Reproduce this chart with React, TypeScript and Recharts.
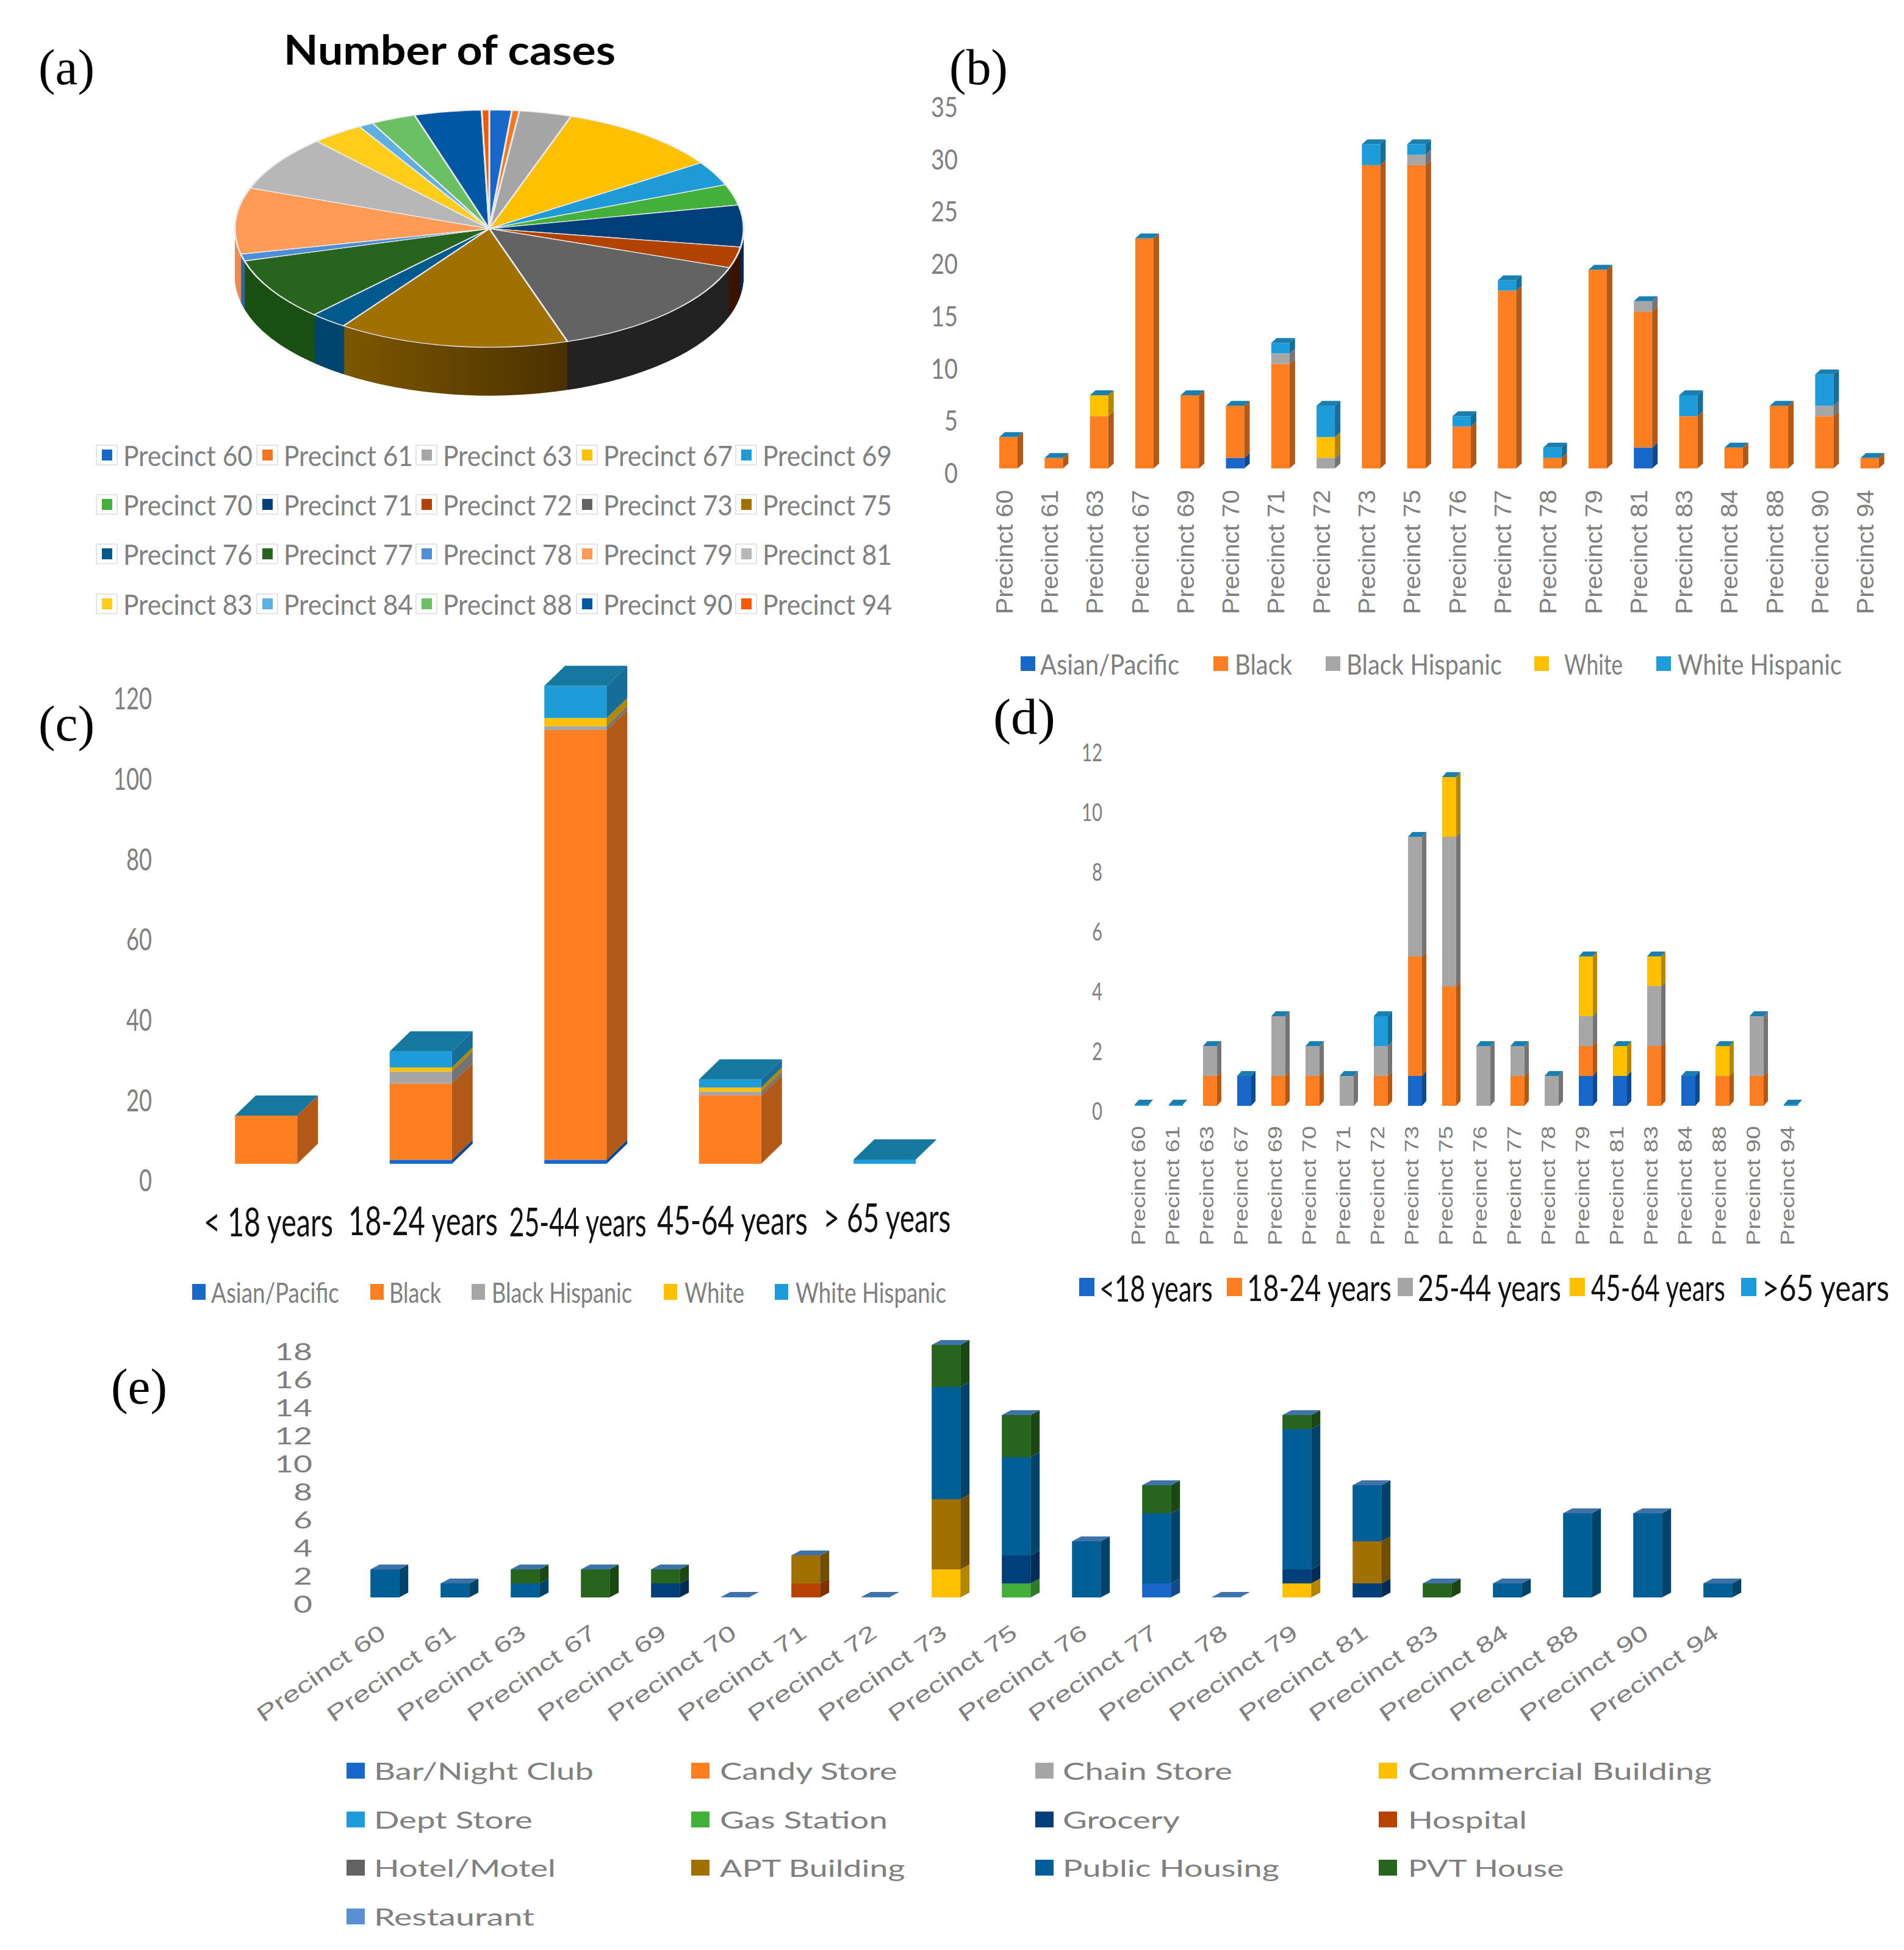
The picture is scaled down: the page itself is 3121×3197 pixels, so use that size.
import React from 'react';
import { BarChart, Bar, XAxis, YAxis, PieChart, Pie, Cell } from 'recharts';

const W = 3121;
const H = 3197;

const precincts = ['Precinct 60','Precinct 61','Precinct 63','Precinct 67','Precinct 69','Precinct 70','Precinct 71','Precinct 72','Precinct 73','Precinct 75','Precinct 76','Precinct 77','Precinct 78','Precinct 79','Precinct 81','Precinct 83','Precinct 84','Precinct 88','Precinct 90','Precinct 94'];

// (a) cases per precinct
const caseCounts = [3,1,7,22,7,6,12,6,31,31,5,18,2,19,16,7,2,6,9,1];
const pieColors = ['#1768c9','#f5761f','#a5a5a5','#ffc000','#1e9ad6','#44b03c','#003f7a','#b14200','#636363','#a07000','#005a8e','#27651e','#4d8fd6','#ff9a57','#b7b7b7','#ffcd1a','#5fb0e0','#6cc064','#0058a5','#f15a00'];
const pieSides = ['#104a8e','#aa5215','#747474','#b38700','#156c96','#2f7b2a','#002c55','#3a1400','#222222','url(#sideGold)','#00456e','#1b5015','#36649a','#f08a4f','#808080','#b39012','#437b9d','#4c8646','#003d74','#a93f00'];

// (b) race by precinct
const raceNames = ['Asian/Pacific','Black','Black Hispanic','White','White Hispanic'];
const raceColors = ['#1768c9','#fe7f22','#a6a6a6','#ffc000','#1e9bd9'];
const bAsian = [0,0,0,0,0,1,0,0,0,0,0,0,0,0,2,0,0,0,0,0];
const bBlack = [3,1,5,22,7,5,10,0,29,29,4,17,1,19,13,5,2,6,5,1];
const bBlackHisp = [0,0,0,0,0,0,1,1,0,1,0,0,0,0,1,0,0,0,1,0];
const bWhite = [0,0,2,0,0,0,0,2,0,0,0,0,0,0,0,0,0,0,0,0];
const bWhiteHisp = [0,0,0,0,0,0,1,3,2,1,1,1,1,0,0,2,0,0,3,0];

// (c) race by age group
const ageGroups = ['< 18 years','18-24 years','25-44 years','45-64 years','> 65 years'];
const cAsian = [0,1,1,0,0];
const cBlack = [12,19,107,17,0];
const cBlackHisp = [0,3,1,1,0];
const cWhite = [0,1,2,1,0];
const cWhiteHisp = [0,4,8,2,0];

// (d) age by precinct
const ageNames = ['<18 years','18-24 years','25-44 years','45-64 years','>65 years'];
const ageColors = ['#1768c9','#fe7f22','#a6a6a6','#ffc000','#1e9bd9'];
const dUnder18 = [0,0,0,1,0,0,0,0,1,0,0,0,0,1,1,0,1,0,0,0];
const d18to24 = [0,0,1,0,1,1,0,1,4,4,0,1,0,1,0,2,0,1,1,0];
const d25to44 = [0,0,1,0,2,1,1,1,4,5,2,1,1,1,0,2,0,0,2,0];
const d45to64 = [0,0,0,0,0,0,0,0,0,2,0,0,0,2,1,1,0,1,0,0];
const dOver65 = [0,0,0,0,0,0,0,1,0,0,0,0,0,0,0,0,0,0,0,0];

// (e) location by precinct
const placeNames = ['Bar/Night Club','Candy Store','Chain Store','Commercial Building','Dept Store','Gas Station','Grocery','Hospital','Hotel/Motel','APT Building','Public Housing','PVT House','Restaurant'];
const placeColors = ['#1768c9','#fe7f22','#a6a6a6','#ffc000','#1e9bd9','#44b03c','#003f7a','#b84300','#636363','#a07000','#005f96','#27651e','#5a8fd6'];
const eBar = [0,0,0,0,0,0,0,0,0,0,0,1,0,0,0,0,0,0,0,0];
const eCandy = [0,0,0,0,0,0,0,0,0,0,0,0,0,0,0,0,0,0,0,0];
const eChain = [0,0,0,0,0,0,0,0,0,0,0,0,0,0,0,0,0,0,0,0];
const eCommercial = [0,0,0,0,0,0,0,0,2,0,0,0,0,1,0,0,0,0,0,0];
const eDept = [0,0,0,0,0,0,0,0,0,0,0,0,0,0,0,0,0,0,0,0];
const eGas = [0,0,0,0,0,0,0,0,0,1,0,0,0,0,0,0,0,0,0,0];
const eGrocery = [0,0,0,0,1,0,0,0,0,2,0,0,0,1,1,0,0,0,0,0];
const eHospital = [0,0,0,0,0,0,1,0,0,0,0,0,0,0,0,0,0,0,0,0];
const eHotel = [0,0,0,0,0,0,0,0,0,0,0,0,0,0,0,0,0,0,0,0];
const eApt = [0,0,0,0,0,0,2,0,5,0,0,0,0,0,3,0,0,0,0,0];
const ePublic = [2,1,1,0,0,0,0,0,8,7,4,5,0,10,4,0,1,6,6,1];
const ePvt = [0,0,1,2,1,0,0,0,3,3,0,2,0,1,0,1,0,0,0,0];
const eRestaurant = [0,0,0,0,0,0,0,0,0,0,0,0,0,0,0,0,0,0,0,0];

const table = (cats: string[], cols: number[][]) =>
  cats.map((name, i) => {
    const row: any = { name };
    cols.forEach((c, k) => { row['s' + k] = c[i]; });
    return row;
  });

const shade = (hex: string, f: number) => {
  const n = parseInt(hex.slice(1), 16);
  const c = (v: number) => Math.round(v * f).toString(16).padStart(2, '0');
  return '#' + c((n >> 16) & 255) + c((n >> 8) & 255) + c(n & 255);
};

const GRAY = '#7f7f7f';
const LATO = 'Lato, sans-serif';
const SANS = '"Liberation Sans", sans-serif';
const SERIF = '"Liberation Serif", serif';

const measureCtx = document.createElement('canvas').getContext('2d') as CanvasRenderingContext2D;

// Text squeezed or stretched to a given width, as the source figure's resized panels are.
function T({ x, y, w, text, size, fill = GRAY, family = LATO, weight = 400, anchor = 'start', rotate = 0 }: any) {
  measureCtx.font = `${weight} ${size}px ${family}`;
  const natural = measureCtx.measureText(String(text)).width || 1;
  const sx = (w / natural).toFixed(4);
  return (
    <text x={0} y={0} fontSize={size} fill={fill} fontFamily={family} fontWeight={weight} textAnchor={anchor}
      dominantBaseline="central" transform={`translate(${x} ${y}) rotate(${rotate}) scale(${sx} 1)`}>{text}</text>
  );
}

const boxShape = (color: string, dx: number, dy: number, baseY: number, cap?: string, zeroFront = 0) => (p: any) => {
  const { x, y, width: w, height: h } = p;
  if (!(h > 0) && !cap) return <g />;
  const hh = h > 0 ? h : 0;
  // an empty stack still shows a thin slab on the baseline
  const strip = hh === 0 && Math.abs(y - baseY) < 1 ? zeroFront : 0;
  const top = y - strip;
  return (
    <g>
      {hh > 0 && <rect x={x} y={y} width={w} height={hh} fill={color} />}
      {hh > 0 && <polygon points={`${x + w},${y} ${x + w + dx},${y - dy} ${x + w + dx},${y + hh - dy} ${x + w},${y + hh}`} fill={shade(color, 0.7)} />}
      {strip > 0 && <rect x={x} y={top} width={w} height={strip} fill={color} />}
      {cap && <polygon points={`${x},${top} ${x + dx},${top - dy} ${x + w + dx},${top - dy} ${x + w},${top}`} fill={cap} />}
    </g>
  );
};

function Stacked({ data, colors, plot, domainMax, ticks, barW, dx, dy, cap, zeroFront, yTick, xTick }: any) {
  return (
    <div style={{ position: 'absolute', left: 0, top: 0 }}>
      <BarChart width={W} height={H} data={data} margin={{ top: plot.t, right: W - plot.r, bottom: 0, left: 0 }} barSize={barW} style={{ position: 'absolute' }}>
        <XAxis dataKey="name" interval={0} height={H - plot.b} axisLine={false} tickLine={false} tickSize={0} tickMargin={0} tick={xTick} />
        <YAxis width={plot.l} type="number" domain={[0, domainMax]} ticks={ticks} axisLine={false} tickLine={false} tickSize={0} tick={yTick} />
        {colors.map((c: string, i: number) => (
          <Bar key={i} dataKey={'s' + i} stackId="a" fill={c} isAnimationActive={false}
            shape={boxShape(c, dx, dy, plot.b, i === colors.length - 1 ? cap : undefined, zeroFront)} />
        ))}
      </BarChart>
    </div>
  );
}

function LegendRow({ items, y, mw, mh }: any) {
  return (
    <>
      {items.map((it: any) => (
        <g key={it.text}>
          <rect x={it.mx} y={y - mh / 2} width={mw} height={mh} fill={it.color} />
          <T x={it.tx} y={y} w={it.tw} text={it.text} size={it.size} fill={it.fill || GRAY} />
        </g>
      ))}
    </>
  );
}

const numTick = (right: number, off: number, size: number, digitW: number) => (p: any) => {
  const s = String(p.payload.value);
  return <T x={right} y={p.y + off} w={digitW * s.length} text={s} size={size} anchor="end" />;
};

const vertTick = (top: number, len: number, size: number, shift: number) => (p: any) => (
  <T x={p.x + shift} y={top} w={len} text={p.payload.value} size={size} family={SANS} anchor="end" rotate={-90} />
);

const slantTick = (yEnd: number, len: number, size: number, shift: number) => (p: any) => (
  <T x={p.x + shift} y={yEnd} w={len} text={p.payload.value} size={size} family={SANS} anchor="end" rotate={-35} />
);

const ageLabelW: any = { '< 18 years': 213, '18-24 years': 246, '25-44 years': 226, '45-64 years': 248, '> 65 years': 210 };
const ageLabelY: any = { '< 18 years': 2002, '18-24 years': 2000, '25-44 years': 2002, '45-64 years': 1998, '> 65 years': 1994 };
const ageTick = () => (p: any) => (
  <T x={p.x + 4} y={ageLabelY[p.payload.value]} w={ageLabelW[p.payload.value]} text={p.payload.value} size={66} fill="#111" anchor="middle" />
);

const pieData = precincts.map((name, i) => ({ name, value: caseCounts[i] }));
const layerOffsets = Array.from({ length: 43 }, (_, i) => 170 - i * 4);

function Pie3D() {
  const squash = 0.4664;
  const cyBase = 450;
  return (
    <div style={{ position: 'absolute', left: 352, top: 375 - cyBase * squash, transform: `scaleY(${squash})`, transformOrigin: '0 0' }}>
      <PieChart width={900} height={1100} margin={{ top: 0, right: 0, bottom: 0, left: 0 }}>
        <defs>
          <linearGradient id="sideGold" gradientUnits="userSpaceOnUse" x1={211} x2={579} y1={0} y2={0}>
            <stop offset="0%" stopColor="#7d5800" />
            <stop offset="100%" stopColor="#4a3000" />
          </linearGradient>
        </defs>
        {layerOffsets.map((o) => (
          <Pie key={o} data={pieData} dataKey="value" cx={450} cy={cyBase + o} outerRadius={417} innerRadius={0}
            startAngle={90} endAngle={-270} stroke="none" isAnimationActive={false} legendType="none">
            {pieData.map((d, i) => <Cell key={d.name} fill={pieSides[i]} />)}
          </Pie>
        ))}
        <Pie data={pieData} dataKey="value" cx={450} cy={cyBase} outerRadius={417} innerRadius={0}
          startAngle={90} endAngle={-270} stroke="#e8e8e8" strokeWidth={3} isAnimationActive={false}>
          {pieData.map((d, i) => <Cell key={d.name} fill={pieColors[i]} />)}
        </Pie>
      </PieChart>
    </div>
  );
}

const aCols = [202, 465, 726, 989, 1250];
const aRows = [746, 827, 908, 990];

function Overlay() {
  const gridE = [613, 1180, 1742, 2308];
  const gridEm = [568, 1133, 1697, 2260];
  const eRows = [2903, 2983, 3062, 3142];
  const eW = [360, 292, 278, 498, 260, 275, 192, 195, 298, 305, 355, 257, 263];
  return (
    <svg width={W} height={H} style={{ position: 'absolute', left: 0, top: 0 }}>
      <T x={63} y={111} w={92} text="(a)" size={82} fill="#000" family={SERIF} />
      <T x={1556} y={111} w={96} text="(b)" size={82} fill="#000" family={SERIF} />
      <T x={63} y={1187} w={92} text="(c)" size={82} fill="#000" family={SERIF} />
      <T x={1628} y={1175} w={102} text="(d)" size={82} fill="#000" family={SERIF} />
      <T x={182} y={2274} w={92} text="(e)" size={82} fill="#000" family={SERIF} />
      <T x={465} y={80} w={547} text="Number of cases" size={66} fill="#000" family={LATO} weight={700} />

      {precincts.map((p, i) => {
        const col = i % 5;
        const row = Math.floor(i / 5);
        const tx = aCols[col];
        const y = aRows[row];
        return (
          <g key={p}>
            <rect x={tx - 44} y={y - 16} width={34} height={32} fill="#fff" stroke="#e4e4e4" strokeWidth={2} />
            <rect x={tx - 35} y={y - 9} width={17} height={18} fill={pieColors[i]} />
            <T x={tx} y={y} w={212} text={p} size={46} fill="#808080" />
          </g>
        );
      })}

      <LegendRow y={1088} mw={24} mh={24} items={raceNames.map((t, i) => ({
        text: t, color: raceColors[i], size: 46,
        mx: [1673, 1989, 2173, 2515, 2715][i], tx: [1705, 2024, 2207, 2564, 2750][i], tw: [228, 94, 255, 96, 269][i],
      }))} />
      <LegendRow y={2118} mw={22} mh={26} items={raceNames.map((t, i) => ({
        text: t, color: raceColors[i], size: 46,
        mx: [315, 607, 773, 1088, 1270][i], tx: [346, 638, 806, 1122, 1304][i], tw: [210, 85, 230, 98, 247][i],
      }))} />
      <LegendRow y={2110} mw={25} mh={30} items={ageNames.map((t, i) => ({
        text: t, color: ageColors[i], size: 60, fill: '#111',
        mx: [1769, 2011, 2291, 2573, 2854][i], tx: [1802, 2044, 2324, 2608, 2888][i], tw: [187, 238, 236, 221, 210][i],
      }))} />
      {placeNames.map((t, i) => {
        const c = i % 4;
        const r = Math.floor(i / 4);
        return (
          <g key={t}>
            <rect x={gridEm[c]} y={eRows[r] - 13} width={30} height={26} fill={placeColors[i]} />
            <T x={gridE[c]} y={eRows[r]} w={eW[i]} text={t} size={39} fill="#808080" />
          </g>
        );
      })}
    </svg>
  );
}

export default function App() {
  const bData = table(precincts, [bAsian, bBlack, bBlackHisp, bWhite, bWhiteHisp]);
  const cData = table(ageGroups, [cAsian, cBlack, cBlackHisp, cWhite, cWhiteHisp]);
  const dData = table(precincts, [dUnder18, d18to24, d25to44, d45to64, dOver65]);
  const eData = table(precincts, [eBar, eCandy, eChain, eCommercial, eDept, eGas, eGrocery, eHospital, eHotel, eApt, ePublic, ePvt, eRestaurant]);
  return (
    <div style={{ position: 'absolute', left: 0, top: 0, width: W, height: H, background: '#fff', overflow: 'hidden' }}>
      <Pie3D />
      <Stacked data={bData} colors={raceColors} plot={{ l: 1616, r: 3102, t: 168, b: 768 }} domainMax={35} ticks={[0,5,10,15,20,25,30,35]}
        barW={30} dx={9} dy={8} cap="#1a7fae" yTick={numTick(1570, 6, 46, 22)} xTick={vertTick(803, 204, 38, -7)} />
      <Stacked data={cData} colors={raceColors} plot={{ l: 309.25, r: 1576.75, t: 1118, b: 1908 }} domainMax={120} ticks={[0,20,40,60,80,100,120]}
        barW={102} dx={34} dy={33} cap="#16789f" zeroFront={7} yTick={numTick(249, 26, 50, 21)} xTick={ageTick()} />
      <Stacked data={dData} colors={ageColors} plot={{ l: 1843, r: 2963, t: 1225, b: 1813 }} domainMax={12} ticks={[0,2,4,6,8,10,12]}
        barW={23} dx={7} dy={8} cap="#1a7fae" zeroFront={2} yTick={numTick(1807, 7, 40, 17)} xTick={vertTick(1846, 196, 31, -5)} />
      <Stacked data={eData} colors={placeColors} plot={{ l: 573.2, r: 2873.2, t: 2205, b: 2619 }} domainMax={18} ticks={[0,2,4,6,8,10,12,14,16,18]}
        barW={47} dx={15} dy={8} cap="#3f72a8" zeroFront={1} yTick={numTick(512, 10, 38, 31)} xTick={slantTick(2672, 248, 36, -3)} />
      <Overlay />
    </div>
  );
}
